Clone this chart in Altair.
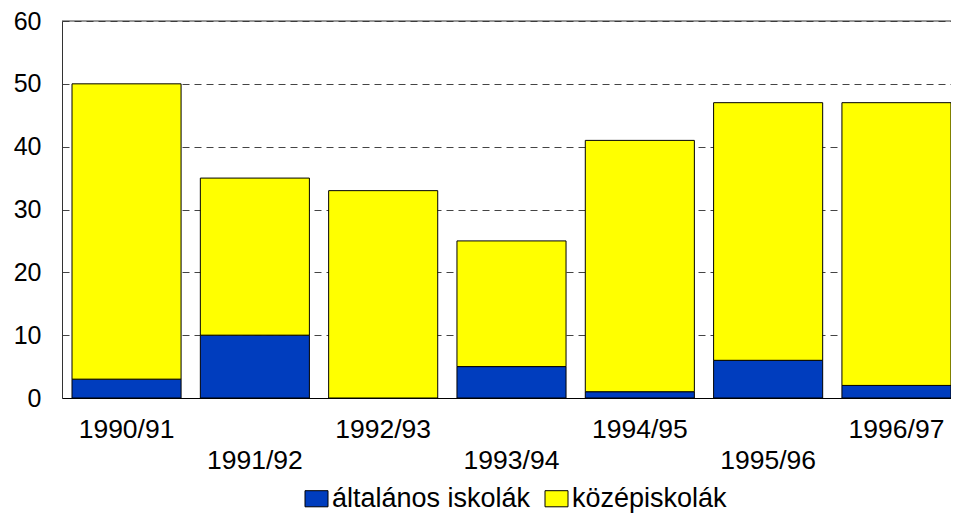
import altair as alt
import pandas as pd

years = ["1990/91", "1991/92", "1992/93", "1993/94", "1994/95", "1995/96", "1996/97"]
altalanos = [3, 10, 0, 5, 1, 6, 2]
kozep = [47, 25, 33, 20, 40, 41, 45]
series = ["általános iskolák", "középiskolák"]
colors = ["#003DBE", "#FFFF00"]
y_ticks = [0, 10, 20, 30, 40, 50, 60]
stagger = ["1991/92", "1993/94", "1995/96"]

rows = []
for i, yr in enumerate(years):
    rows.append({"year": yr, "series": series[0], "value": altalanos[i], "ord": 0})
    rows.append({"year": yr, "series": series[1], "value": kozep[i], "ord": 1})
df = pd.DataFrame(rows)
top_df = pd.DataFrame({"y": [y_ticks[-1]]})

font = "Liberation Sans"
label_expr = "indexof(" + str(stagger) + ", datum.label) >= 0 ? ['', datum.label] : datum.label"

bars = alt.Chart(df).mark_bar(stroke="black", strokeWidth=1).encode(
    x=alt.X(
        "year:N",
        sort=years,
        scale=alt.Scale(paddingInner=0.15, paddingOuter=0.039, align=1),
        axis=alt.Axis(
            title=None, labelAngle=0, labelFont=font, labelFontSize=26.5,
            labelColor="black", labelPadding=18, ticks=False, tickSize=0,
            domainColor="black", labelExpr=label_expr, labelLineHeight=31,
            labelBaseline="top", grid=False,
        ),
    ),
    y=alt.Y(
        "value:Q",
        stack="zero",
        scale=alt.Scale(domain=[0, 60], nice=False),
        axis=alt.Axis(
            title=None, values=y_ticks, labelFont=font, labelFontSize=25,
            labelColor="black", labelPadding=21, ticks=False, tickSize=0,
            domainColor="#333", grid=True, gridColor="#444", gridDash=[7, 5],
        ),
    ),
    color=alt.Color(
        "series:N",
        scale=alt.Scale(domain=series, range=colors),
        legend=alt.Legend(
            title=None, orient="none", legendX=241, legendY=464,
            direction="horizontal", columns=2,
            symbolType="M-1,-0.7H1V0.7H-1Z", symbolSize=529,
            symbolStrokeColor="black", symbolStrokeWidth=1, symbolOpacity=1,
            labelFont=font, labelFontSize=27, labelColor="black",
            labelOffset=2, columnPadding=12, padding=0, labelLimit=0,
        ),
    ),
    order=alt.Order("ord:Q"),
)

rule = alt.Chart(top_df).mark_rule(color="#333", strokeWidth=1).encode(y="y:Q")

chart = alt.layer(bars, rule).properties(
    width=889,
    height=377,
    padding={"left": 54, "top": 13, "right": 0, "bottom": 115},
    autosize=alt.AutoSizeParams(type="none"),
).configure_view(stroke=None)

chart.save("out.html", embed_options={"renderer": "svg", "actions": False})
